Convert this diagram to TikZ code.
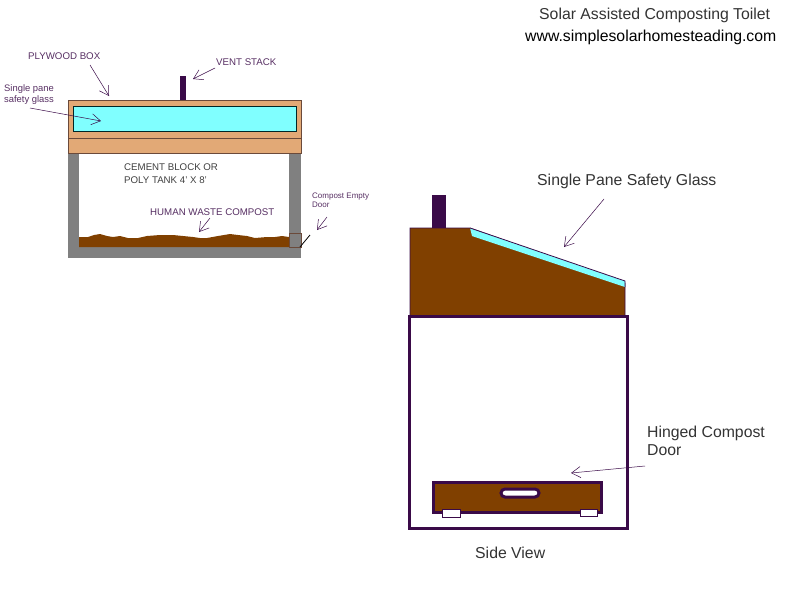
\documentclass[tikz,border=0pt]{standalone}
\usepackage{fontspec}
\setmainfont{Liberation Sans}
\usetikzlibrary{arrows.meta}
\definecolor{ventpurple}{HTML}{3A0A48}
\definecolor{plywood}{HTML}{E2A976}
\definecolor{boxedge}{HTML}{6B4A3A}
\definecolor{glasscyan}{HTML}{80FFFF}
\definecolor{compost}{HTML}{804000}
\definecolor{wallgray}{HTML}{808080}
\tikzset{
  note/.style={anchor=west, inner sep=0pt, text=ventpurple!85, font=\fontsize{9.7}{13}\selectfont, align=left},
  smallnote/.style={note, font=\fontsize{8}{9.5}\selectfont},
  biglabel/.style={anchor=west, inner sep=0pt, text=black!80, font=\fontsize{15.8}{18}\selectfont, align=left},
  pointer/.style={-{Straight Barb[length=9pt,width=11pt]}, ventpurple, line width=0.5pt},
  thickedge/.style={draw=ventpurple, line width=3pt},
}
\begin{document}
\begin{tikzpicture}[x=1pt, y=-1pt]
  \useasboundingbox (0,0) rectangle (785,600);
  % top view
  \fill[wallgray] (68,153) rectangle (301,258);
  \fill[white] (79,153) rectangle (289,247);
  \fill[compost] (79,247) -- (79,237) -- (88,237) -- (94,235) -- (100,234) -- (107,236) -- (113,237) -- (120,236) -- (128,238) -- (138,238) -- (147,236) -- (160,235) -- (173,235) -- (183,236) -- (193,237) -- (200,238) -- (207,238) -- (218,236) -- (230,234) -- (238,235) -- (247,236) -- (255,238) -- (267,237) -- (275,237) -- (282,236) -- (289,237) -- (289,247) -- cycle;
  \draw[boxedge, line width=0.4pt] (289,233) rectangle (301,247);
  \draw[black, line width=0.8pt] (300,247) -- (310,235);
  \fill[ventpurple] (180,76) rectangle (186,100);
  \draw[boxedge, fill=plywood, line width=0.8pt] (68,100) rectangle (301,153);
  \draw[boxedge, line width=0.6pt] (68,138) -- (301,138);
  \draw[black!70!teal, fill=glasscyan, line width=0.8pt] (73,106) rectangle (296,131);
  % side view
  \fill[ventpurple] (432,195) rectangle (446,228);
  \draw[ventpurple, fill=compost, line width=0.8pt] (410,316) -- (410,228) -- (470,228) -- (625,283) -- (625,316) -- cycle;
  \fill[glasscyan] (470,228) -- (625,281) -- (625,287) -- (472,236) -- cycle;
  \draw[ventpurple, line width=0.8pt] (470,228) -- (625,281) -- (625,287);
  \draw[thickedge] (409,316) rectangle (627,528);
  \draw[thickedge, fill=compost] (433,482) rectangle (601,512);
  \draw[thickedge, fill=white, rounded corners=4pt] (501,489) rectangle (539,497);
  \draw[ventpurple, fill=white, line width=0.6pt] (442,509) rectangle (460,517);
  \draw[ventpurple, fill=white, line width=0.6pt] (580,509) rectangle (597,516);
  % labels
  \node[biglabel] (title) at (539,15) {Solar Assisted Composting Toilet};
  \node[biglabel, text=black] (website) at (525,37) {www.simplesolarhomesteading.com};
  \node[note] (plywoodlabel) at (28,56) {PLYWOOD BOX};
  \node[note] (ventlabel) at (216,62) {VENT STACK};
  \node[smallnote, font=\fontsize{9.4}{11}\selectfont] (glasslabel) at (4,95) {Single pane\\safety glass};
  \node[note, text=black!75] (tanklabel) at (124,174) {CEMENT BLOCK OR\\POLY TANK 4' X 8'};
  \node[note] (compostlabel) at (150,212) {HUMAN WASTE COMPOST};
  \node[smallnote] (doorlabel) at (312,200) {Compost Empty\\Door};
  \node[biglabel] (panelabel) at (537,181) {Single Pane Safety Glass};
  \node[biglabel] (hingedlabel) at (647,441) {Hinged Compost\\Door};
  \node[biglabel] (sidelabel) at (475,553) {Side View};
  % pointers
  \coordinate (plywoodtail) at (90,65);
  \coordinate (plywoodtip) at (109,96);
  \coordinate (glasstail) at (30,108);
  \coordinate (glasstip) at (101,121);
  \coordinate (venttail) at (215,68);
  \coordinate (venttip) at (193,79);
  \coordinate (composttail) at (210,218);
  \coordinate (composttip) at (199,232);
  \coordinate (doortail) at (327,217);
  \coordinate (doortip) at (317,230);
  \coordinate (panetail) at (604,199);
  \coordinate (panetip) at (564,247);
  \coordinate (hingedtail) at (645,466);
  \coordinate (hingedtip) at (571,473);
  \foreach \a/\b in {plywoodtail/plywoodtip, glasstail/glasstip, venttail/venttip, composttail/composttip, doortail/doortip, panetail/panetip, hingedtail/hingedtip}
    \draw[pointer] (\a) -- (\b);
\end{tikzpicture}
\end{document}
